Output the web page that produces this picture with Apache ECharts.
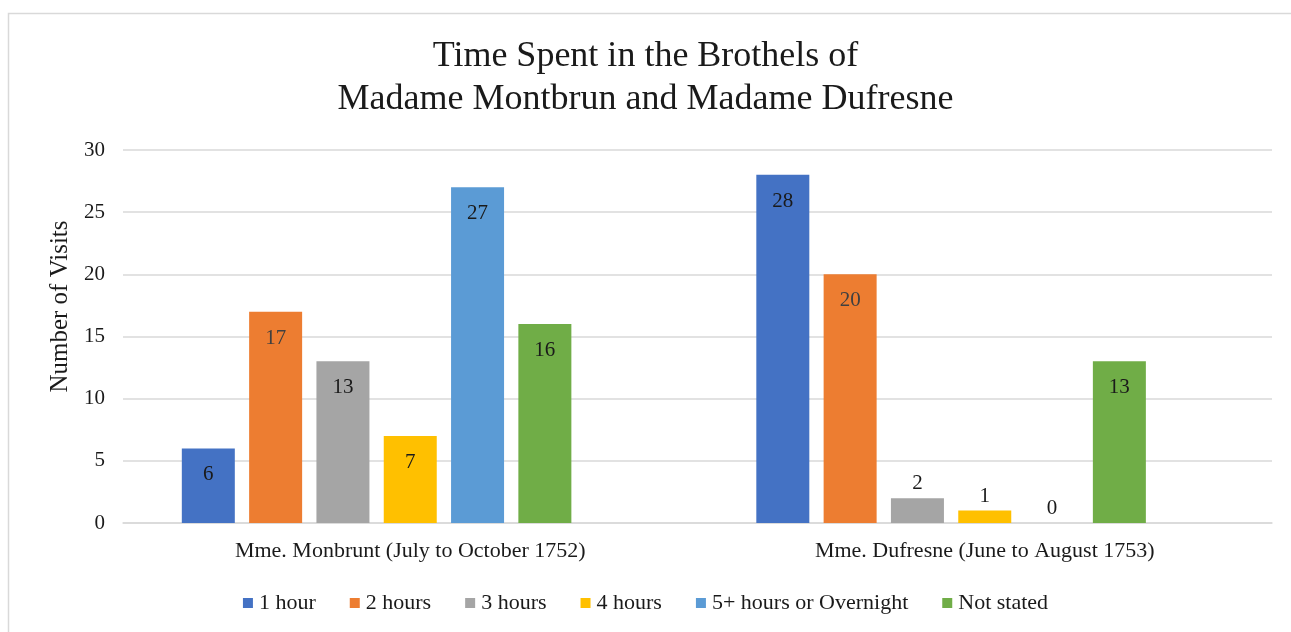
<!DOCTYPE html>
<html><head><meta charset="utf-8">
<script src="https://cdn.jsdelivr.net/npm/echarts@6/dist/echarts.min.js"></script>
<style>html,body{margin:0;padding:0;background:#fff}#c{width:1291px;height:632px}</style>
</head><body><div id="c"></div>
<script>
const categories = ['Mme. Monbrunt (July to October 1752)', 'Mme. Dufresne (June to August 1753)'];
const seriesNames = ['1 hour', '2 hours', '3 hours', '4 hours', '5+ hours or Overnight', 'Not stated'];
const oneHour = [6, 28];
const twoHours = [17, 20];
const threeHours = [13, 2];
const fourHours = [7, 1];
const fivePlus = [27, 0];
const notStated = [16, 13];
const yTicks = [0, 5, 10, 15, 20, 25, 30];
const titleLines = ['Time Spent in the Brothels of', 'Madame Montbrun and Madame Dufresne'];
const yAxisName = 'Number of Visits';

const values = [oneHour, twoHours, threeHours, fourHours, fivePlus, notStated];
const colors = ['#4472c4', '#ed7d31', '#a5a5a5', '#ffc000', '#5b9bd5', '#70ad47'];
const FONT = 'Liberation Serif';

const series = values.map((arr, i) => ({
  name: seriesNames[i],
  type: 'bar',
  barWidth: 53,
  barGap: '27%',
  itemStyle: { color: colors[i] },
  data: arr.map(v => ({
    value: v,
    label: {
      show: true,
      position: v < 4 ? 'top' : 'insideTop',
      distance: v < 4 ? 4 : 16,
      color: i === 1 ? '#404040' : '#1a1a1a',
      fontFamily: FONT,
      fontSize: 21
    }
  }))
}));
// empty placeholder slot (Excel keeps a 7th slot in each group)
series.push({ name: '_pad', type: 'bar', barWidth: 53, data: [null, null] });

const chart = echarts.init(document.getElementById('c'), null, { renderer: 'canvas' });
chart.setOption({
  animation: false,
  textStyle: { fontFamily: FONT },
  graphic: [{
    type: 'rect', shape: { x: 8.5, y: 13.5, width: 1400, height: 700 },
    style: { fill: 'none', stroke: '#d9d9d9', lineWidth: 1.5 }, silent: true, z: -1
  }],
  title: {
    text: titleLines.join('\n'),
    left: 'center', top: 30,
    textStyle: { fontFamily: FONT, fontWeight: 'normal', fontSize: 36, lineHeight: 43, color: '#1a1a1a' }
  },
  legend: {
    data: seriesNames, bottom: 13, left: 'center',
    icon: 'rect', itemWidth: 10, itemHeight: 10, itemGap: 34,
    textStyle: { fontFamily: FONT, fontSize: 22, color: '#1a1a1a', padding: [0, 0, 0, 1] }
  },
  grid: { left: 123, right: 19, top: 150, bottom: 109, containLabel: false },
  xAxis: {
    type: 'category', data: categories,
    axisTick: { show: false },
    axisLine: { lineStyle: { color: '#d9d9d9', width: 1.5 } },
    axisLabel: { fontFamily: FONT, fontSize: 22, color: '#1a1a1a', margin: 17 }
  },
  yAxis: {
    type: 'value', min: 0, max: 30, interval: 5,
    name: yAxisName, nameLocation: 'middle', nameGap: 50,
    nameTextStyle: { fontFamily: FONT, fontSize: 25, color: '#1a1a1a', padding: [0, 0, 0, 60] },
    axisLine: { show: false }, axisTick: { show: false },
    axisLabel: { fontFamily: FONT, fontSize: 21, color: '#1a1a1a', margin: 18,
      formatter: v => yTicks.includes(v) ? String(v) : '' },
    splitLine: { lineStyle: { color: '#d9d9d9', width: 1.5 } }
  },
  series: series
});
</script></body></html>
